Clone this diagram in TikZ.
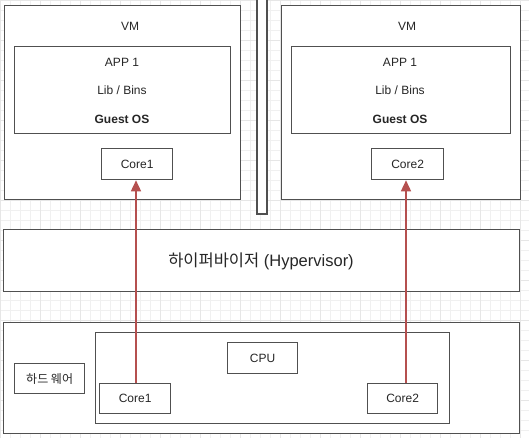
\documentclass[tikz,border=0pt]{standalone}
\usepackage{fontspec}
\setmainfont{Liberation Sans}
\newfontfamily\krfont{Noto Sans CJK KR}
\usetikzlibrary{arrows.meta}
\definecolor{edge}{HTML}{505050}
\definecolor{arrowred}{HTML}{B5504F}
\definecolor{gridc}{HTML}{F0F0F0}
\definecolor{gridm}{HTML}{E6E6E6}
\tikzset{
  box/.style={draw=edge, line width=1.3pt, fill=white, inner sep=0pt, anchor=north west},
  lbl/.style={font=\fontsize{12}{14}\selectfont, text=black!85},
  conn/.style={draw=arrowred, line width=1.5pt, -{Triangle[length=11pt,width=10pt]}}
}
\newcommand{\rbox}[5]{\node[box, minimum width=#4pt, minimum height=#5pt] (#1) at (#2pt,-#3pt) {};}
\begin{document}
\begin{tikzpicture}[x=1pt,y=1pt]
\useasboundingbox (0,0) rectangle (529,-438);
\fill[white] (0,0) rectangle (529,-438);
\draw[gridc, line width=0.6pt, step=10pt] (0,-438) grid (529,0);
\draw[gridm, line width=0.7pt, step=40pt] (0,-438) grid (529,0);
% divider bar
\draw[edge, line width=1.3pt, fill=white] (257,2) rectangle (267,-214);
% left VM
\rbox{vm1}{4}{5}{236}{194}
\node[lbl] (vm1t) at (130,-26) {VM};
\rbox{in1}{14}{46}{216}{87}
\node[lbl] (app1) at (122,-62) {APP 1};
\node[lbl] (lib1) at (122,-90) {Lib / Bins};
\node[lbl, font=\fontsize{12}{14}\selectfont\bfseries] (os1) at (122,-119) {Guest OS};
\node[box, minimum width=71pt, minimum height=31pt] (c1top) at (101,-148) {};
\node[lbl] at (c1top.center) {Core1};
% right VM
\rbox{vm2}{281}{5}{239}{194}
\node[lbl] (vm2t) at (407,-26) {VM};
\rbox{in2}{291}{46}{219}{87}
\node[lbl] (app2) at (400,-62) {APP 1};
\node[lbl] (lib2) at (400,-90) {Lib / Bins};
\node[lbl, font=\fontsize{12}{14}\selectfont\bfseries] (os2) at (400,-119) {Guest OS};
\node[box, minimum width=72pt, minimum height=31pt] (c2top) at (371,-148) {};
\node[lbl] at (c2top.center) {Core2};
% hypervisor
\rbox{hyp}{3}{229}{516}{62}
\node[font=\fontsize{16.5}{19}\selectfont, text=black!85] (hypt) at (261,-261) {{\krfont 하이퍼바이저} (Hypervisor)};
% hardware
\rbox{hw}{3}{322}{516}{111}
\rbox{cpuarea}{95}{332}{354}{91}
\node[box, minimum width=70pt, minimum height=31pt] (cpu) at (227,-342) {};
\node[lbl] at (cpu.center) {CPU};
\node[box, minimum width=70pt, minimum height=30pt] (hwl) at (14,-363) {};
\node[lbl] at (hwl.center) {\krfont 하드 웨어};
\node[box, minimum width=71pt, minimum height=30pt] (c1b) at (99,-383) {};
\node[lbl] at (c1b.center) {Core1};
\node[box, minimum width=70pt, minimum height=30pt] (c2b) at (367,-383) {};
\node[lbl] at (c2b.center) {Core2};
% arrows
\draw[conn] (c1b.north -| 136,0) -- (c1top.south -| 136,0);
\draw[conn] (c2b.north -| 406,0) -- (c2top.south -| 406,0);
\end{tikzpicture}
\end{document}
